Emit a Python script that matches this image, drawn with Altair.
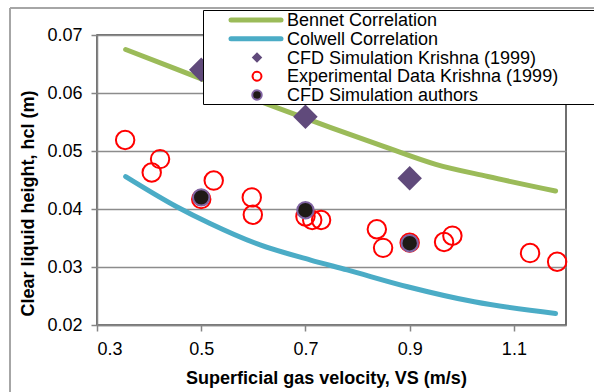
import altair as alt
import pandas as pd

# ---------------- data ----------------
bennet_x = [0.355, 0.45, 0.55, 0.65, 0.75, 0.85, 0.95, 1.05, 1.18]
bennet_y = [0.0675, 0.0642, 0.0607, 0.0573, 0.0540, 0.0508, 0.0477, 0.0456, 0.0431]

colwell_x = [0.355, 0.453, 0.517, 0.613, 0.71, 0.78, 0.896, 1.024, 1.18]
colwell_y = [0.0456, 0.0404, 0.0375, 0.0338, 0.0312, 0.0295, 0.0266, 0.0240, 0.0220]

cfd_krishna_x = [0.5, 0.7, 0.9]
cfd_krishna_y = [0.0640, 0.0559, 0.0453]

exp_x = [0.354, 0.405, 0.421, 0.5, 0.524, 0.597, 0.599, 0.70, 0.713, 0.730,
         0.837, 0.849, 0.90, 0.966, 0.982, 1.131, 1.183]
exp_y = [0.0519, 0.0463, 0.0486, 0.0417, 0.0449, 0.0420, 0.0390, 0.0387, 0.0381, 0.0381,
         0.0365, 0.0333, 0.0342, 0.0343, 0.0354, 0.0324, 0.0309]

cfd_auth_x = [0.5, 0.7, 0.9]
cfd_auth_y = [0.0420, 0.0398, 0.0341]

legend_labels = ["Bennet Correlation", "Colwell Correlation",
                 "CFD Simulation Krishna (1999)", "Experimental Data Krishna (1999)",
                 "CFD Simulation authors"]

x_ticks = [0.3, 0.5, 0.7, 0.9, 1.1]
y_ticks = [0.02, 0.03, 0.04, 0.05, 0.06, 0.07]

# ---------------- styles ----------------
GREEN = "#9BBB59"
BLUE = "#4BACC6"
PURPLE_D = "#604A7B"
PURPLE = "#8064A2"
RED = "#FF0000"
DARK = "#1E1A16"
FONT = "Liberation Sans"

W, H = 469, 290
PAD_L, PAD_T = 97, 35

xs = alt.Scale(domain=[0.3, 1.2], nice=False, zero=False)
ys = alt.Scale(domain=[0.02, 0.07], nice=False, zero=False)

x_axis = alt.Axis(values=x_ticks, format=".1f", grid=False,
                  title="Superficial gas velocity, VS (m/s)",
                  titleX=229, titleY=53, titleBaseline="middle")
y_axis = alt.Axis(values=y_ticks, format=".2f", grid=True,
                  title="Clear liquid height, hcl (m)",
                  titleX=-69, titleY=168, titleBaseline="middle", titleAngle=270)

bennet_df = pd.DataFrame({"x": bennet_x, "y": bennet_y})
colwell_df = pd.DataFrame({"x": colwell_x, "y": colwell_y})
krishna_df = pd.DataFrame({"x": cfd_krishna_x, "y": cfd_krishna_y})
exp_df = pd.DataFrame({"x": exp_x, "y": exp_y})
auth_df = pd.DataFrame({"x": cfd_auth_x, "y": cfd_auth_y})

bennet = alt.Chart(bennet_df).mark_line(color=GREEN, strokeWidth=5, strokeCap="round",
                                        interpolate="monotone").encode(
    x=alt.X("x:Q", scale=xs, axis=x_axis),
    y=alt.Y("y:Q", scale=ys, axis=y_axis),
)
colwell = alt.Chart(colwell_df).mark_line(color=BLUE, strokeWidth=5, strokeCap="round",
                                          interpolate="monotone").encode(
    x=alt.X("x:Q", scale=xs), y=alt.Y("y:Q", scale=ys))

exp_pts = alt.Chart(exp_df).mark_point(shape="circle", filled=False, color=RED,
                                       strokeWidth=2, size=340, opacity=1).encode(
    x=alt.X("x:Q", scale=xs), y=alt.Y("y:Q", scale=ys))
krishna_pts = alt.Chart(krishna_df).mark_point(shape="diamond", filled=True, color=PURPLE_D,
                                               size=600, opacity=1).encode(
    x=alt.X("x:Q", scale=xs), y=alt.Y("y:Q", scale=ys))
auth_pts = alt.Chart(auth_df).mark_point(shape="circle", filled=True, fill=DARK, stroke=PURPLE,
                                         strokeWidth=2, size=270, opacity=1).encode(
    x=alt.X("x:Q", scale=xs), y=alt.Y("y:Q", scale=ys))

# ---------------- decorations: outer frame and legend box ----------------
frame_v = alt.Chart(pd.DataFrame({"a": [0]})).mark_rule(color="#A6A6A6", strokeWidth=2).encode(
    x=alt.value(10 - PAD_L), y=alt.value(8 - PAD_T), y2=alt.value(400 - PAD_T))
frame_h = alt.Chart(pd.DataFrame({"a": [0]})).mark_rule(color="#A6A6A6", strokeWidth=2).encode(
    y=alt.value(8 - PAD_T), x=alt.value(10 - PAD_L), x2=alt.value(600 - PAD_L))

legend_box = alt.Chart(pd.DataFrame({"a": [0]})).mark_rect(
    fill="white", stroke="black", strokeWidth=1).encode(
    x=alt.value(203.5 - PAD_L), x2=alt.value(610 - PAD_L),
    y=alt.value(10.5 - PAD_T), y2=alt.value(104.5 - PAD_T))

row_y = [20, 38.75, 57.5, 76.25, 95]
leg_layers = []
one = pd.DataFrame({"a": [0]})
for i, lab in enumerate(legend_labels):
    leg_layers.append(
        alt.Chart(one).mark_text(text=lab, align="left", baseline="middle",
                                 font=FONT, fontSize=18, color="black").encode(
            x=alt.value(287 - PAD_L), y=alt.value(row_y[i] - PAD_T + 1)))
leg_layers.append(alt.Chart(one).mark_rule(color=GREEN, strokeWidth=5, strokeCap="round").encode(
    x=alt.value(231 - PAD_L), x2=alt.value(281 - PAD_L), y=alt.value(row_y[0] - PAD_T)))
leg_layers.append(alt.Chart(one).mark_rule(color=BLUE, strokeWidth=5, strokeCap="round").encode(
    x=alt.value(231 - PAD_L), x2=alt.value(281 - PAD_L), y=alt.value(row_y[1] - PAD_T)))
leg_layers.append(alt.Chart(one).mark_point(shape="diamond", filled=True, color=PURPLE_D,
                                            size=110, opacity=1).encode(
    x=alt.value(257 - PAD_L), y=alt.value(row_y[2] - PAD_T)))
leg_layers.append(alt.Chart(one).mark_point(shape="circle", filled=False, color=RED,
                                            strokeWidth=2, size=80, opacity=1).encode(
    x=alt.value(257 - PAD_L), y=alt.value(row_y[3] - PAD_T)))
leg_layers.append(alt.Chart(one).mark_point(shape="circle", filled=True, fill=DARK, stroke=PURPLE,
                                            strokeWidth=2, size=90, opacity=1).encode(
    x=alt.value(257 - PAD_L), y=alt.value(row_y[4] - PAD_T)))

chart = alt.layer(
    bennet, colwell, exp_pts, krishna_pts, auth_pts,
    legend_box, *leg_layers, frame_v, frame_h,
).properties(
    width=W, height=H,
    autosize=alt.AutoSizeParams(type="none"),
    padding={"left": PAD_L, "top": PAD_T, "right": 594 - PAD_L - W, "bottom": 392 - PAD_T - H},
    background="white",
).configure_view(
    stroke="#404040", strokeWidth=1.5,
).configure_axis(
    labelFont=FONT, labelFontSize=18, labelColor="black",
    titleFont=FONT, titleFontSize=18, titleFontWeight="bold", titleColor="black",
    domainColor="#868686", domainWidth=1.5,
    tickColor="#868686", tickWidth=1.5, tickSize=6,
    gridColor="#8C8C8C", gridWidth=1.5,
    labelPadding=9,
)

chart.save("out.html", embed_options={"renderer": "svg", "actions": False})
